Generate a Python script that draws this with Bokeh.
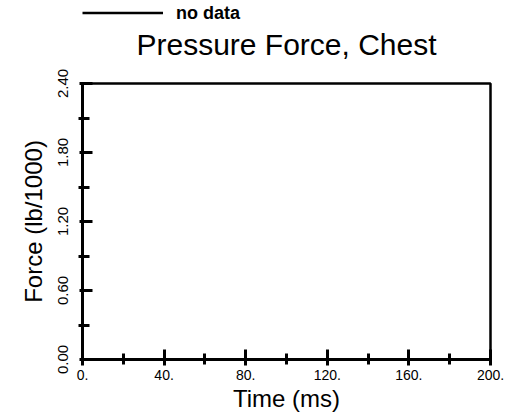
from bokeh.plotting import figure
from bokeh.layouts import column
from bokeh.models import Range1d, FixedTicker, Legend, LegendItem, ColumnDataSource
from bokeh.embed import file_html
from bokeh.resources import INLINE

# ---- data ----
title_text = "Pressure Force, Chest"
x_title = "Time (ms)"
y_title = "Force (lb/1000)"
series_name = "no data"
series_time = []
series_force = []
x_major = [0, 40, 80, 120, 160, 200]
x_minor = [20, 60, 100, 140, 180]
x_tick_labels = ["0.", "40.", "80.", "120.", "160.", "200."]
y_major = [0.0, 0.6, 1.2, 1.8, 2.4]
y_minor = [0.3, 0.9, 1.5, 2.1]
y_tick_labels = ["0.00", "0.60", "1.20", "1.80", "2.40"]
x_limits = (0, 200)
y_limits = (0, 2.4)

FONT = "Liberation Sans"

# The series has no data; Bokeh only draws a legend swatch for a renderer
# with at least one row, so an empty series gets a single missing (NaN) row.
series_src = ColumnDataSource(dict(
    t=series_time if series_time else [float("nan")],
    f=series_force if series_force else [float("nan")],
))

# ---- header strip: legend (in its frame) and the chart title (below it) ----
lf = figure(width=510, height=60, output_backend="svg", toolbar_location=None,
            title=title_text, title_location="below",
            x_range=Range1d(*x_limits), y_range=Range1d(*y_limits),
            x_axis_type=None, y_axis_type=None,
            min_border_left=79, min_border_right=17, min_border_top=0, min_border_bottom=0)
lf.outline_line_color = None
lf.xgrid.visible = False
lf.ygrid.visible = False
lf.title.align = "center"
lf.title.text_font = FONT
lf.title.text_font_size = "30px"
lf.title.text_font_style = "normal"
lf.title.text_color = "black"
lf.title.standoff = 0

r = lf.line(x="t", y="f", source=series_src, line_color="black", line_width=2.5)
legend = Legend(items=[LegendItem(label=series_name, renderers=[r])],
                location="left", padding=0, margin=0, glyph_width=81, glyph_height=20,
                label_standoff=13, label_text_font=FONT, label_text_font_size="18px",
                label_text_font_style="bold", label_text_color="black",
                border_line_color=None, background_fill_alpha=0)
lf.add_layout(legend, "center")

# ---- main chart ----
p = figure(width=510, height=354, output_backend="svg", toolbar_location=None,
           x_range=Range1d(*x_limits), y_range=Range1d(*y_limits),
           min_border_left=82, min_border_right=20, min_border_top=23,
           min_border_bottom=51)
p.background_fill_color = "white"
p.border_fill_color = "white"
p.outline_line_color = "black"
p.outline_line_width = 2.5
p.xgrid.visible = False
p.ygrid.visible = False

p.xaxis.ticker = FixedTicker(ticks=x_major, minor_ticks=x_minor)
p.yaxis.ticker = FixedTicker(ticks=y_major, minor_ticks=y_minor)
p.xaxis.major_label_overrides = {v: t for v, t in zip(x_major, x_tick_labels)}
p.yaxis.major_label_overrides = {v: t for v, t in zip(y_major, y_tick_labels)}
p.xaxis.axis_label = x_title
p.yaxis.axis_label = y_title
for ax in (p.xaxis[0], p.yaxis[0]):
    ax.axis_line_width = 3
    ax.axis_line_color = "black"
    ax.major_tick_line_width = 3
    ax.minor_tick_line_width = 3
    ax.major_tick_line_color = "black"
    ax.minor_tick_line_color = "black"
    ax.major_label_text_color = "black"
    ax.major_label_text_font = FONT
    ax.axis_label_text_font = FONT
    ax.axis_label_text_font_size = "24px"
    ax.axis_label_text_font_style = "normal"
    ax.axis_label_text_color = "black"

p.xaxis.major_label_text_font_size = "14px"
p.yaxis.major_label_text_font_size = "15px"

p.xaxis.major_tick_in = 10
p.xaxis.major_tick_out = 6
p.xaxis.minor_tick_in = 6
p.xaxis.minor_tick_out = 5
p.xaxis.major_label_standoff = 4
p.xaxis.axis_label_standoff = 2

p.yaxis.major_tick_in = 10
p.yaxis.major_tick_out = 3
p.yaxis.minor_tick_in = 7
p.yaxis.minor_tick_out = 4
p.yaxis.major_label_orientation = "vertical"
p.yaxis.major_label_standoff = 11
p.yaxis.axis_label_standoff = 8

layout = column(lf, p, spacing=0)
open("out.html", "w").write(file_html(layout, INLINE))
